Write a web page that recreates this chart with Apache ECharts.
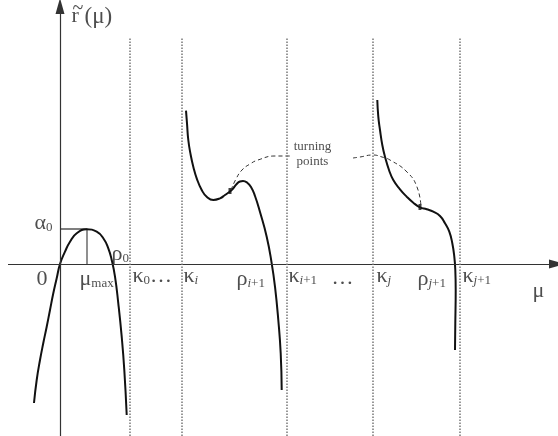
<!DOCTYPE html>
<html><head><meta charset="utf-8">
<script src="https://cdn.jsdelivr.net/npm/echarts@6/dist/echarts.min.js"></script>
<style>html,body{margin:0;padding:0;background:#fff}#c{width:558px;height:436px}</style>
</head><body><div id="c"></div>
<script>
// Coordinates: origin at the axes' crossing, units = picture pixels (y up)
const branch0 = [[-26,-139],[-23.3,-116],[-20,-96],[-16.7,-79],[-13.3,-62.7],[-10,-46],[-6.7,-29.3],[-3.3,-14.3],[0,0],[5,12.3],[10,22.3],[16.7,30.7],[26.7,34.7],[36.7,32.3],[43.3,25.7],[48.3,15.7],[51.7,4],[55,-12.7],[58.3,-39.3],[61.7,-72.7],[64.3,-106],[66.7,-151]];
const branchI = [[126,153.3],[127,140.7],[128.3,124],[130.7,109],[133.3,97.3],[136.7,85.7],[141.7,74],[146.7,67.3],[153.3,64],[160,65.7],[165,69],[171.7,74],[176.7,80],[180,82.5],[183,83],[187,81.5],[191,77],[195,68],[200,52],[206.7,27.3],[211.7,0.7],[215,-22.7],[218.3,-56],[220.7,-89.3],[221.7,-126]];
const branchJ = [[317.3,164],[318.3,147.3],[320,134],[322.3,119],[325,107.3],[329,94],[333.3,84],[340,74.7],[346.7,67.3],[353.3,61.3],[360,56.7],[366.7,54.7],[373.3,52.3],[380,48],[385,40.7],[389.3,32.3],[392.3,20.7],[394.3,7.3],[395.3,-6],[395.7,-26],[395.3,-59.3],[395,-86]];
const turnArc1 = [[171,74],[176,85],[182,94],[190,100],[198,104],[215,108],[230,108]];
const turnArc2 = [[293,106],[300,107],[313,109],[322,107],[330,104],[347,92],[357,77],[361,57]];
const turnPoints = [[170,73],[360,57]];
const kappaX = [70,122,227,313,400];
const muMax = 27, alpha0 = 35;
const labelTexts = [
  '{m|0}',
  '{m|μ}{s|max}',
  '{m|α}{s|0}',
  '{m|ρ}{s|0}',
  '{m|κ}{s|0}{m|…}',
  '{m|κ}{si|i}',
  '{m|ρ}{si|i}{s|+1}',
  '{m|κ}{si|i}{s|+1}',
  '{m|…}',
  '{m|κ}{si|j}',
  '{m|ρ}{si|j}{s|+1}',
  '{m|κ}{si|j}{s|+1}',
  '{m|μ}',
  '{m|r}{b| (μ)}',
  '{w|~}',
  '{t|turning}\n{t|points}'
];
const labelX = [-23,20,-25,52,73,124,177,229,272,317,358,403,473,12,13,253];
const labelY = [-16,-16,40,9,-13,-13,-16,-13,-15,-13,-16,-13,-28,247,255,109];
const labelAlign = ['left','left','left','left','left','left','left','left','left','left','left','left','left','left','left','center'];

const FONT = "'Liberation Serif','Times New Roman',serif";
const chart = echarts.init(document.getElementById('c'));
const curve = (d) => ({type:'line', data:d, smooth:true, symbol:'none', lineStyle:{color:'#111', width:2}, silent:true});
const dashed = (d) => ({type:'line', data:d, smooth:true, symbol:'none', lineStyle:{color:'#333', width:1, type:[4,3]}, silent:true});

chart.setOption({
  animation:false,
  grid:{left:0,right:0,top:0,bottom:0},
  xAxis:{type:'value',min:-60,max:498,show:false},
  yAxis:{type:'value',min:-172,max:264,show:false},
  series:[
    {type:'line', data:[], silent:true,
      markLine:{silent:true, symbol:['none','triangle'], symbolSize:[9,16], label:{show:false},
        lineStyle:{color:'#333', width:1.2, type:'solid'},
        data:[[{coord:[-52,0]},{coord:[497,0]}],[{coord:[0,-172]},{coord:[0,258]}]]}},
    {type:'line', data:[], silent:true,
      markLine:{silent:true, symbol:['none','none'], label:{show:false},
        lineStyle:{color:'#777', width:1.5, type:'dotted'},
        data: kappaX.map(x => [{coord:[x,-172]},{coord:[x,226]}])}},
    {type:'line', data:[[0,alpha0],[muMax,alpha0],[muMax,0]], symbol:'none', silent:true, lineStyle:{color:'#555', width:1.3}},
    curve(branch0), curve(branchI), curve(branchJ),
    dashed(turnArc1), dashed(turnArc2),
    {type:'scatter', data:turnPoints, symbol:'rect', symbolSize:[3,6], itemStyle:{color:'#111'}, silent:true},
    {type:'scatter', silent:true, symbolSize:1, itemStyle:{color:'rgba(0,0,0,0)'},
      data: labelTexts.map((t,i) => ({value:[labelX[i], labelY[i]], label:{formatter:t, align:labelAlign[i]}})),
      label:{show:true, position:[0,0], verticalAlign:'middle',
        rich:{
          m:{fontFamily:FONT, fontSize:22, color:'#222'},
          b:{fontFamily:FONT, fontSize:23, color:'#222'},
          w:{fontFamily:FONT, fontSize:20, color:'#222', width:12},
          s:{fontFamily:FONT, fontSize:13, color:'#222', verticalAlign:'bottom'},
          si:{fontFamily:FONT, fontSize:13, fontStyle:'italic', color:'#222', verticalAlign:'bottom'},
          t:{fontFamily:FONT, fontSize:13, color:'#222', align:'center', lineHeight:15}
        }}}
  ]
});
</script></body></html>
